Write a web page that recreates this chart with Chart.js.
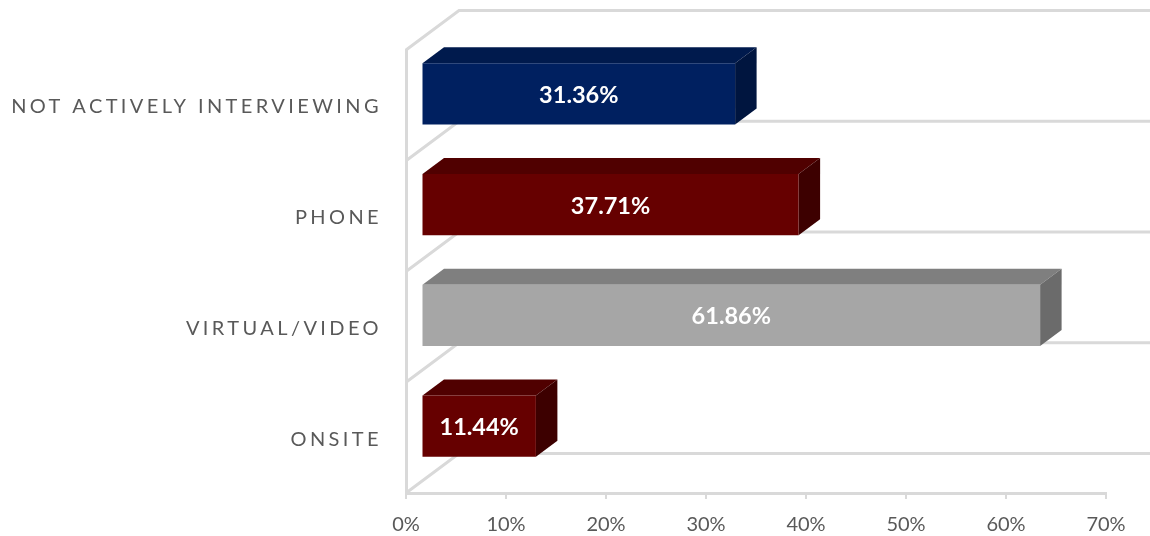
<!DOCTYPE html>
<html>
<head>
<meta charset="utf-8">
<title>Interview format</title>
<script src="https://cdn.jsdelivr.net/npm/chart.js@4"></script>
<style>
  html, body { margin: 0; padding: 0; background: #fff; }
  canvas { display: block; }
</style>
</head>
<body>
<canvas id="interviewChart" width="1150" height="536"></canvas>
<script>
const categories = ["NOT ACTIVELY INTERVIEWING", "PHONE", "VIRTUAL/VIDEO", "ONSITE"];
const shares = [31.36, 37.71, 61.86, 11.44];
const frontColors = ["#002060", "#660000", "#a6a6a6", "#660000"];
const topColors = ["#001a4d", "#500000", "#7f7f7f", "#500000"];
const sideColors = ["#00153f", "#3d0000", "#6b6b6b", "#3d0000"];

const wallColor = "#d9d9d9";
const wallDepth = { x: 53, y: -39.5 };  // back wall offset from the axis plane
const barInset = { x: 15.5, y: -11.5 };  // bars sit part way into the depth
const barDepth = { x: 21.5, y: -16 };

function face(ctx, points, fill) {
  ctx.beginPath();
  points.forEach((p, i) => i ? ctx.lineTo(p[0], p[1]) : ctx.moveTo(p[0], p[1]));
  ctx.closePath();
  ctx.fillStyle = fill;
  ctx.fill();
}

// side wall, back wall rules and the top/side faces of every bar
const box3d = {
  id: "box3d",
  beforeDatasetsDraw(chart) {
    const { ctx, chartArea, scales } = chart;
    const band = scales.y.height / categories.length;
    ctx.save();
    ctx.strokeStyle = wallColor;
    ctx.lineWidth = 3;
    for (let i = 0; i <= categories.length; i++) {
      const y = chartArea.top + band * i;
      ctx.beginPath();
      ctx.moveTo(chartArea.left, y);
      ctx.lineTo(chartArea.left + wallDepth.x, y + wallDepth.y);
      ctx.lineTo(chart.width, y + wallDepth.y);
      ctx.stroke();
    }
    ctx.restore();

    ctx.save();
    ctx.translate(barInset.x, barInset.y);
    chart.getDatasetMeta(0).data.forEach((bar, i) => {
      const top = bar.y - bar.height / 2;
      const bottom = bar.y + bar.height / 2;
      face(ctx, [
        [bar.base, top], [bar.x, top],
        [bar.x + barDepth.x, top + barDepth.y], [bar.base + barDepth.x, top + barDepth.y]
      ], topColors[i]);
      face(ctx, [
        [bar.x, top], [bar.x + barDepth.x, top + barDepth.y],
        [bar.x + barDepth.x, bottom + barDepth.y], [bar.x, bottom]
      ], sideColors[i]);
    });
    ctx.restore();

    ctx.save();
    ctx.translate(barInset.x, barInset.y);
  },
  afterDatasetsDraw(chart) {
    const { ctx } = chart;
    ctx.restore();

    ctx.save();
    ctx.font = "bold 23.5px Lato";
    ctx.fillStyle = "#fff";
    ctx.textAlign = "center";
    ctx.textBaseline = "middle";
    chart.getDatasetMeta(0).data.forEach((bar, i) => {
      ctx.fillText(shares[i].toFixed(2) + "%",
        (bar.base + bar.x) / 2 + barInset.x, bar.y + barInset.y + 1.5);
    });
    ctx.restore();
  }
};

new Chart(document.getElementById("interviewChart"), {
  type: "bar",
  data: {
    labels: categories,
    datasets: [{
      data: shares,
      backgroundColor: frontColors,
      categoryPercentage: 1,
      barPercentage: 0.555,
      clip: false
    }]
  },
  plugins: [box3d],
  options: {
    indexAxis: "y",
    responsive: false,
    animation: false,
    layout: { padding: { top: 50, right: 44 } },
    plugins: { legend: { display: false }, tooltip: { enabled: false } },
    scales: {
      x: {
        min: 0,
        max: 70,
        afterFit(scale) { scale.height = 43; },
        grid: { drawOnChartArea: false, color: wallColor, lineWidth: 2, tickLength: 6 },
        border: { color: wallColor, width: 3 },
        ticks: {
          stepSize: 10,
          color: "#595959",
          padding: 14,
          maxRotation: 0,
          font: { family: "Lato", size: 20 },
          callback: v => v + "%"
        }
      },
      y: {
        afterFit(scale) { scale.width = 406; },
        afterUpdate(scale) {
          // tracked-out category labels
          if (scale.spacedLabels) return;
          scale.spacedLabels = true;
          const drawLabels = scale.drawLabels;
          scale.drawLabels = function (area) {
            const c = scale.ctx;
            c.save();
            c.letterSpacing = "3.4px";
            c.translate(0, 1.5);
            drawLabels.call(scale, area);
            c.restore();
          };
        },
        grid: { display: false },
        border: { color: wallColor, width: 3 },
        ticks: {
          color: "#595959",
          padding: 16,
          autoSkip: false,
          font: { family: "Lato", size: 20 }
        }
      }
    }
  }
});
</script>
</body>
</html>
